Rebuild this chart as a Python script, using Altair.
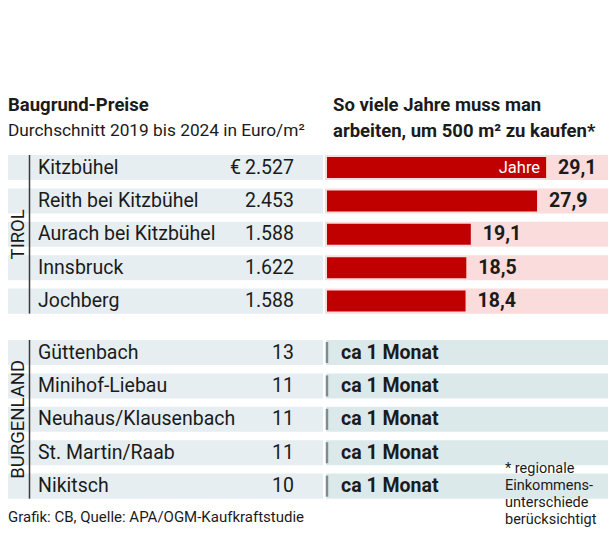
import altair as alt
import pandas as pd

# ---- data ----
tirol_names = ["Kitzbühel", "Reith bei Kitzbühel", "Aurach bei Kitzbühel", "Innsbruck", "Jochberg"]
tirol_prices = [2527, 2453, 1588, 1622, 1588]
tirol_years = [29.1, 27.9, 19.1, 18.5, 18.4]

burg_names = ["Güttenbach", "Minihof-Liebau", "Neuhaus/Klausenbach", "St. Martin/Raab", "Nikitsch"]
burg_prices = [13, 11, 11, 11, 10]
burg_label = "ca 1 Monat"

regions = ["TIROL", "BURGENLAND"]

title_left = "Baugrund-Preise"
sub_left = "Durchschnitt 2019 bis 2024 in Euro/m²"
title_right = ["So viele Jahre muss man", "arbeiten, um 500 m² zu kaufen*"]
footnote = "* regionale\nEinkommens-\nunterschiede\nberücksichtigt"
source = "Grafik: CB, Quelle: APA/OGM-Kaufkraftstudie"

# ---- layout ----
W, H = 600, 519
PITCH = 33.4
ROW0 = 159.5
GAP = 5.54
HALF = 0.375
BARHALF = 0.315
PXY = 7.53       # pixels per year
X0 = 319         # pixel of zero years
FONT = "Roboto"
INK = "#1b1b1b"

rows = []
for i, (n, p, y) in enumerate(zip(tirol_names, tirol_prices, tirol_years)):
    rows.append(dict(region=regions[0], name=n, price=f"{p:,}".replace(",", "."),
                     years=y, ytxt=f"{y:.1f}".replace(".", ","), pos=float(i), first=1 if i == 0 else 0))
for j, (n, p) in enumerate(zip(burg_names, burg_prices)):
    rows.append(dict(region=regions[1], name=n, price=f"{p:,}".replace(",", "."),
                     years=0.0, ytxt=burg_label, pos=GAP + j, first=0))
df = pd.DataFrame(rows)

reg = pd.DataFrame({
    "region": regions,
    "mid": [2.0, GAP + 2.0],
    "start": [0 - HALF, GAP - HALF],
    "end": [4 + HALF, GAP + 4 + HALF],
})

ya = -ROW0 / PITCH
yb = ya + H / PITCH
ysc = alt.Scale(domain=[ya, yb], reverse=True, zero=False, nice=False)
xsc = alt.Scale(domain=[-X0 / PXY, (W - X0) / PXY], zero=False, nice=False)


def Y(f):
    return alt.Y(f, scale=ysc, axis=None)


def X(f):
    return alt.X(f, scale=xsc, axis=None)


base = alt.Chart(df).transform_calculate(
    y0=f"datum.pos - {HALF}", y1=f"datum.pos + {HALF}",
    b0=f"datum.pos - {BARHALF}", b1=f"datum.pos + {BARHALF}",
)
tir = base.transform_filter(f"datum.region == '{regions[0]}'")
bur = base.transform_filter(f"datum.region == '{regions[1]}'")

left_band = base.mark_rect(color="#e6eef1").encode(
    x=alt.value(0), x2=alt.value(315), y=Y("y0:Q"), y2=alt.Y2("y1:Q"))

pink_band = tir.mark_rect(color="#fbdcdc").encode(
    x=alt.value(317), x2=alt.value(W), y=Y("y0:Q"), y2=alt.Y2("y1:Q"))

blue_band = bur.mark_rect(color="#dce9eb").encode(
    x=alt.value(318), x2=alt.value(W), y=Y("y0:Q"), y2=alt.Y2("y1:Q"))

bars = tir.transform_calculate(zero="0").mark_rect(color="#c00000").encode(
    x=X("zero:Q"), x2=alt.X2("years:Q"),
    y=Y("b0:Q"), y2=alt.Y2("b1:Q"))

marker = bur.mark_rule(color="#7d8c8f", strokeWidth=2.5).encode(
    x=X("years:Q"), y=Y("b0:Q"), y2=alt.Y2("b1:Q"))

names = base.mark_text(align="left", baseline="middle", font=FONT, fontSize=19.5, color=INK).encode(
    x=alt.value(30), y=Y("pos:Q"), text="name:N")

prices = base.mark_text(align="right", baseline="middle", font=FONT, fontSize=19.5, color=INK).encode(
    x=alt.value(286), y=Y("pos:Q"), text="price:N")

euro = base.transform_filter("datum.first == 1").mark_text(
    align="left", baseline="middle", font=FONT, fontSize=19.5, color=INK).encode(
    x=alt.value(222), y=Y("pos:Q"), text=alt.value("€"))

year_lbl = tir.mark_text(
    align="left", baseline="middle", font=FONT, fontSize=19.5, fontWeight="bold", color=INK, dx=12).encode(
    x=X("years:Q"), y=Y("pos:Q"), text="ytxt:N")

jahre = base.transform_filter("datum.first == 1").mark_text(
    align="right", baseline="middle", font=FONT, fontSize=16.5, color="white", dx=-6).encode(
    x=X("years:Q"), y=Y("pos:Q"), text=alt.value("Jahre"))

monat = bur.mark_text(
    align="left", baseline="middle", font=FONT, fontSize=19.5, fontWeight="bold", color=INK).encode(
    x=alt.value(333), y=Y("pos:Q"), text="ytxt:N")

reg_base = alt.Chart(reg)
reg_lines = reg_base.mark_rule(color="#3a3a3a", strokeWidth=1.5).encode(
    x=alt.value(21.5), y=Y("start:Q"), y2=alt.Y2("end:Q"))
reg_text = reg_base.mark_text(angle=270, align="center", baseline="middle", font=FONT,
                              fontSize=18.5, color=INK).encode(
    x=alt.value(10), y=Y("mid:Q"), text="region:N")


def label(txt, x, y, size, weight="normal", **kw):
    return alt.Chart(pd.DataFrame({"t": [txt]})).mark_text(
        align="left", baseline="alphabetic", font=FONT, fontSize=size, fontWeight=weight,
        color=INK, **kw).encode(x=alt.value(x), y=alt.value(y), text="t:N")


hdr = label(title_left, 0, 102.5, 18.5, "bold")
sub = label(sub_left, 0, 127.5, 17.3)
hdr_r1 = label(title_right[0], 325, 103, 18.5, "bold")
hdr_r2 = label(title_right[1], 325, 128.5, 18.5, "bold")
foot = label(footnote, 497, 464.5, 14.5, lineHeight=17.1, lineBreak="\n")
src = label(source, 0, 514, 15)

chart = alt.layer(
    left_band, pink_band, blue_band, bars, marker,
    names, prices, euro, year_lbl, jahre, monat,
    reg_lines, reg_text, hdr, sub, hdr_r1, hdr_r2, foot, src,
).properties(
    width=W, height=H, padding=0, autosize=alt.AutoSizeParams(type="none"),
).configure_view(stroke=None)

chart.save("out.html", embed_options={"renderer": "svg", "actions": False})
